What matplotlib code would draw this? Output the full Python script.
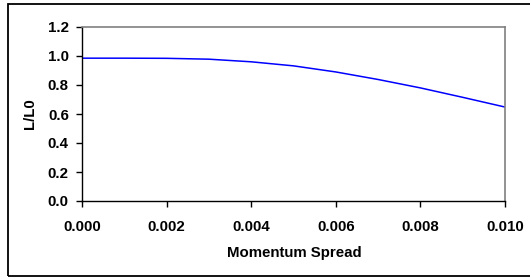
import matplotlib.pyplot as plt
from matplotlib.patches import Rectangle

# data
spread = [0.000, 0.001, 0.002, 0.003, 0.004, 0.005, 0.006, 0.007, 0.008, 0.009, 0.010]
ratio = [0.985, 0.985, 0.984, 0.978, 0.960, 0.932, 0.890, 0.838, 0.780, 0.715, 0.648]
xticks = [0.000, 0.002, 0.004, 0.006, 0.008, 0.010]
yticks = [0.0, 0.2, 0.4, 0.6, 0.8, 1.0, 1.2]

plt.rcParams['font.family'] = ['Liberation Sans', 'DejaVu Sans']

W, H = 530, 277
fig = plt.figure(figsize=(W / 100, H / 100), dpi=100)
# outer chart border (open to the right, as in the reference)
fig.patches.append(Rectangle((7.5 / W, 1.0 / H), 1.2, 272.5 / H, transform=fig.transFigure,
                             fill=False, edgecolor='black', linewidth=1.3))

ax = fig.add_axes([82 / W, 1 - 201 / H, (505 - 82) / W, (201 - 27) / H])
ax.plot(spread, ratio, color='#0000ff', linewidth=1.1)

fs = 10.8
ax.set_xlim(0, 0.010)
ax.set_ylim(0, 1.2)
ax.set_xticks(xticks)
ax.set_xticklabels(['%.3f' % v for v in xticks], fontsize=fs, fontweight='bold')
ax.set_yticks(yticks)
ax.set_yticklabels(['%.1f' % v for v in yticks], fontsize=fs, fontweight='bold')
ax.tick_params(axis='y', direction='out', length=4, width=1, pad=5.5, color='black')
ax.tick_params(axis='x', direction='out', length=4, width=1, pad=10, color='black')

for s in ['top', 'right']:
    ax.spines[s].set_color('#808080')
    ax.spines[s].set_linewidth(1.2)
for s in ['left', 'bottom']:
    ax.spines[s].set_color('black')
    ax.spines[s].set_linewidth(1)

ax.set_xlabel('Momentum Spread', fontsize=fs, fontweight='bold', va='center')
ax.xaxis.set_label_coords(0.502, (201 - 253) / 174)
ax.set_ylabel('L/L0', fontsize=fs, fontweight='bold', va='center')
ax.yaxis.set_label_coords((30 - 82) / 423, 0.5)

fig.savefig('out.png', dpi=100)
